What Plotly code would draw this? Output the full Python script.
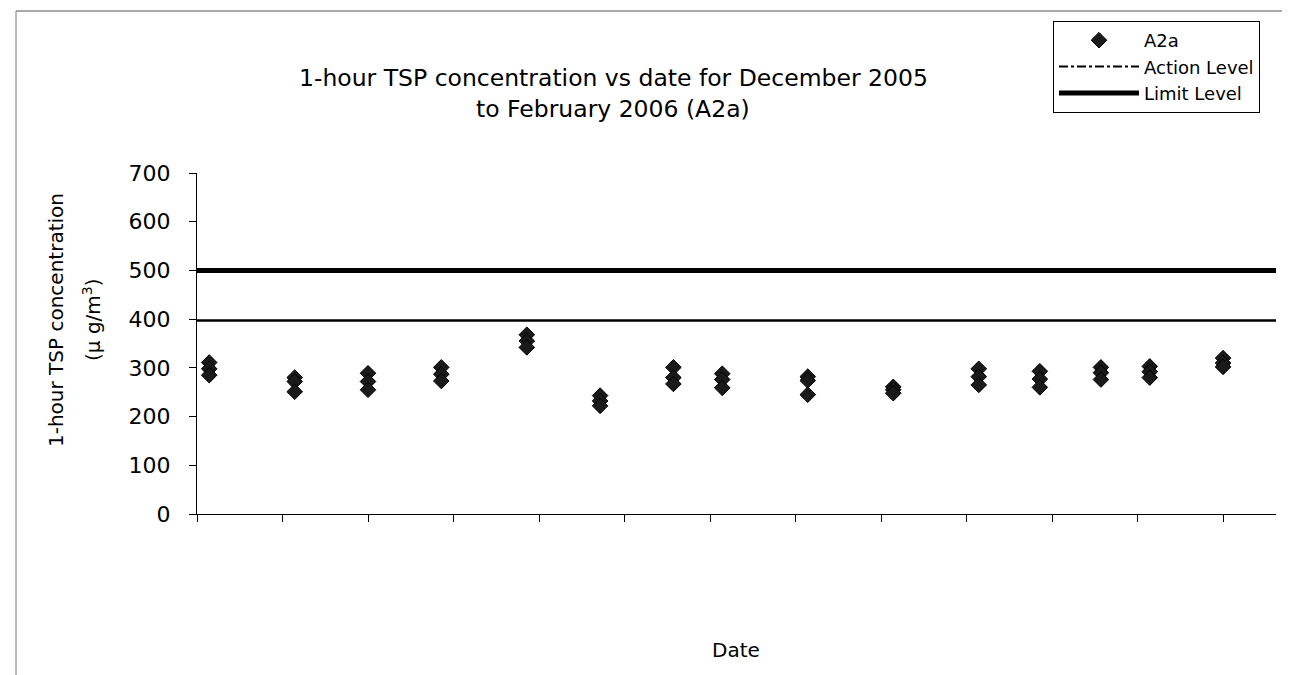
import plotly.graph_objects as go

# ---- data ----
sample_dates = ["2005-12-02", "2005-12-09", "2005-12-15", "2005-12-21", "2005-12-28",
                "2006-01-03", "2006-01-09", "2006-01-13", "2006-01-20", "2006-01-27",
                "2006-02-03", "2006-02-08", "2006-02-13", "2006-02-17", "2006-02-23"]
reading_1 = [311, 280, 289, 301, 368, 243, 301, 288, 282, 261, 298, 293, 301, 303, 320]
reading_2 = [298, 272, 272, 287, 355, 232, 280, 276, 274, 255, 282, 277, 290, 292, 310]
reading_3 = [285, 251, 255, 273, 342, 222, 267, 259, 245, 248, 265, 260, 276, 280, 302]
action_level = 397
limit_level = 500
x_range = ["2005-12-01", "2006-02-27 08:00"]
y_ticks = [0, 100, 200, 300, 400, 500, 600, 700]

xs, ys = [], []
for d, a, b, c in zip(sample_dates, reading_1, reading_2, reading_3):
    xs += [d, d, d]
    ys += [a, b, c]

FONT = "DejaVu Sans, Liberation Sans, Arial, sans-serif"

# plot-area geometry (px) used only to place free text in paper coords
L, R, T, B = 189, 1268, 165, 506
W, H = R - L, B - T
def px(x):
    return (x - L) / W
def py(y):
    return (B - y) / H

fig = go.Figure()
fig.add_trace(go.Scatter(
    x=xs, y=ys, mode="markers", name="A2a",
    marker=dict(symbol="diamond", size=12, color="#1a1a1a",
                line=dict(color="black", width=1)),
))
# Action level (printed solid in the plot), legend entry shows dash-dot
fig.add_trace(go.Scatter(
    x=x_range, y=[action_level, action_level], mode="lines",
    line=dict(color="black", width=2.5), showlegend=False, hoverinfo="skip",
))
fig.add_trace(go.Scatter(
    x=[x_range[0]], y=[None], mode="lines", name="Action Level",
    line=dict(color="black", width=2, dash="dashdot"),
))
fig.add_trace(go.Scatter(
    x=x_range, y=[limit_level, limit_level], mode="lines", name="Limit Level",
    line=dict(color="black", width=5),
))

fig.update_layout(
    width=1290, height=675,
    margin=dict(l=L, r=1290 - R, t=T, b=675 - B),
    paper_bgcolor="white", plot_bgcolor="white",
    font=dict(family=FONT, color="black", size=20),
    showlegend=True,
    legend=dict(x=px(1045), y=py(13), xanchor="left", yanchor="top",
                bgcolor="white", bordercolor="black", borderwidth=1,
                font=dict(size=18, family=FONT), tracegroupgap=0,
                itemwidth=80),
    xaxis=dict(type="date", range=x_range, showgrid=False, zeroline=False,
               showline=True, linecolor="black", linewidth=1,
               ticks="outside", ticklen=7, tickcolor="black",
               tick0="2005-12-01", dtick=7 * 24 * 3600 * 1000,
               showticklabels=False),
    yaxis=dict(range=[0, 700], tickvals=y_ticks, showgrid=False, zeroline=False,
               showline=True, linecolor="black", linewidth=1,
               ticks="outside", ticklen=7, tickcolor="black",
               ticklabelstandoff=14,
               tickfont=dict(size=22, family=FONT)),
    annotations=[
        dict(text="1-hour TSP concentration vs date for December 2005",
             xref="paper", yref="paper", x=px(605), y=py(70),
             xanchor="center", yanchor="middle", showarrow=False,
             font=dict(size=23.5, family=FONT)),
        dict(text="to February 2006 (A2a)",
             xref="paper", yref="paper", x=px(605), y=py(101),
             xanchor="center", yanchor="middle", showarrow=False,
             font=dict(size=23.5, family=FONT)),
        dict(text="1-hour TSP concentration",
             xref="paper", yref="paper", x=px(48), y=py(312),
             xanchor="center", yanchor="middle", textangle=-90, showarrow=False,
             font=dict(size=20, family=FONT)),
        dict(text="(\u03bc g/m<sup>3</sup>)",
             xref="paper", yref="paper", x=px(84), y=py(312),
             xanchor="center", yanchor="middle", textangle=-90, showarrow=False,
             font=dict(size=20, family=FONT)),
        dict(text="Date", xref="paper", yref="paper",
             x=px(728), y=py(642),
             xanchor="center", yanchor="middle", showarrow=False,
             font=dict(size=20, family=FONT)),
    ],
    shapes=[
        dict(type="line", xref="paper", yref="paper",
             x0=px(8), x1=px(1290), y0=py(3), y1=py(3),
             line=dict(color="#555", width=1)),
        dict(type="line", xref="paper", yref="paper",
             x0=px(8), x1=px(8), y0=py(3), y1=py(675),
             line=dict(color="#777", width=1)),
    ],
)

fig.write_html("out.html")
